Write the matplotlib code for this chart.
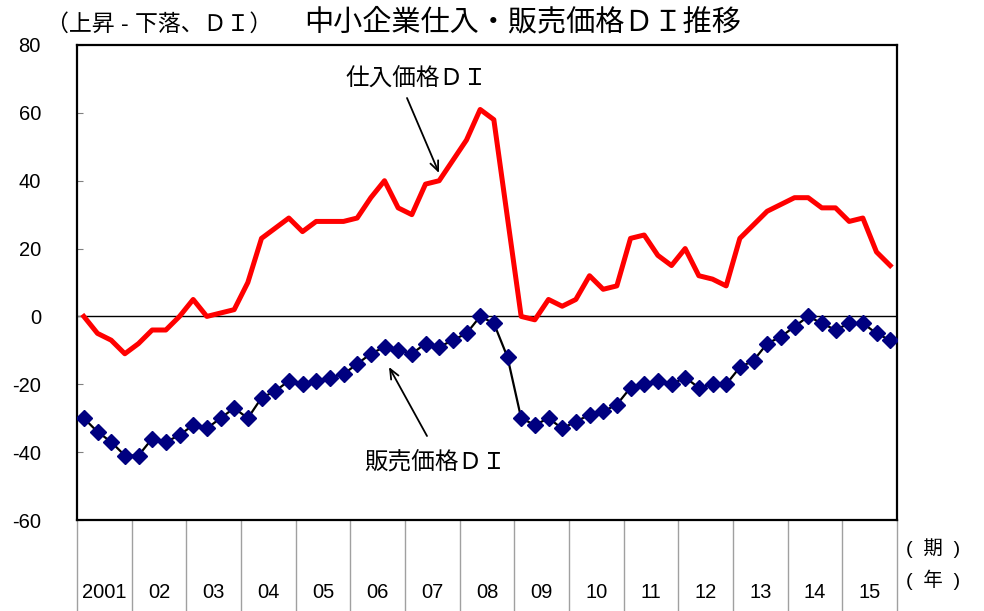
import matplotlib.pyplot as plt
import numpy as np

plt.rcParams['font.family'] = ['Liberation Sans', 'Noto Sans CJK JP']
plt.rcParams['axes.unicode_minus'] = False

# quarterly DI, 2001Q1 - 2015Q4
years = ['2001', '02', '03', '04', '05', '06', '07', '08',
         '09', '10', '11', '12', '13', '14', '15']
purchase_di = [0, -5, -7, -11, -8, -4, -4, 0,
               5, 0, 1, 2, 10, 23, 26, 29,
               25, 28, 28, 28, 29, 35, 40, 32,
               30, 39, 40, 46, 52, 61, 58, 29,
               0, -1, 5, 3, 5, 12, 8, 9,
               23, 24, 18, 15, 20, 12, 11, 9,
               23, 27, 31, 33, 35, 35, 32, 32,
               28, 29, 19, 15]
sales_di = [-30, -34, -37, -41, -41, -36, -37, -35,
            -32, -33, -30, -27, -30, -24, -22, -19,
            -20, -19, -18, -17, -14, -11, -9, -10,
            -11, -8, -9, -7, -5, 0, -2, -12,
            -30, -32, -30, -33, -31, -29, -28, -26,
            -21, -20, -19, -20, -18, -21, -20, -20,
            -15, -13, -8, -6, -3, 0, -2, -4,
            -2, -2, -5, -7]

x = np.arange(len(purchase_di)) + 0.5

W, H = 984, 611
fig = plt.figure(figsize=(W / 100, H / 100), dpi=100)
ax = fig.add_axes([77 / W, 91 / H, 820 / W, 475 / H])

ax.axhline(0, color='black', lw=1.0, zorder=1)
ax.plot(x, purchase_di, color='#ff0000', lw=3.6, zorder=3)
ax.plot(x, sales_di, color='black', lw=1.6, marker='D', ms=8.5,
        mfc='#000080', mec='#000080', zorder=4)

ax.set_xlim(0, len(x))
ax.set_ylim(-60, 80)
ax.set_yticks(range(-60, 81, 20))
ax.set_xticks([])
ax.tick_params(axis='y', direction='in', length=4, color='#808080',
               labelsize=14.5, pad=26)
for sp in ax.spines.values():
    sp.set_linewidth(1.6)

# year separators below the plot area
for k in range(len(years) + 1):
    ax.plot([4 * k, 4 * k], [0, -0.195], transform=ax.get_xaxis_transform(),
            color='#a0a0a0', lw=1.0, clip_on=False)
for k, yr in enumerate(years):
    ax.text(4 * k + 2, -0.152, yr, transform=ax.get_xaxis_transform(),
            ha='center', va='center', fontsize=14.5)
fig.text(933 / W, 1 - 548 / H, '(  期  )', ha='center', va='center',
         fontsize=14)
fig.text(933 / W, 1 - 580 / H, '(  年  )', ha='center', va='center',
         fontsize=14)

fig.text(46 / W, 1 - 24 / H, '（上昇 - 下落、ＤＩ）', ha='left',
         va='center', fontsize=16.5)
fig.text(304 / W, 1 - 22 / H, '中小企業仕入・販売価格ＤＩ推移', ha='left',
         va='center', fontsize=21)


def label_arrow(text, text_xy, tail, tip):
    # positions given from the top-left corner, in pixels
    fig.text(text_xy[0] / W, 1 - text_xy[1] / H, text, ha='center',
             va='center', fontsize=17)
    ax.annotate('', xy=(tip[0], H - tip[1]), xytext=(tail[0], H - tail[1]),
                xycoords='figure pixels', textcoords='figure pixels',
                arrowprops=dict(arrowstyle='->,head_length=0.7,head_width=0.3',
                                color='black', lw=1.3, shrinkA=0, shrinkB=0))


label_arrow('仕入価格ＤＩ', (416, 80), (407, 98), (439, 173))
label_arrow('販売価格ＤＩ', (435, 463), (427, 436), (389, 367))

fig.savefig('out.png', dpi=100)
